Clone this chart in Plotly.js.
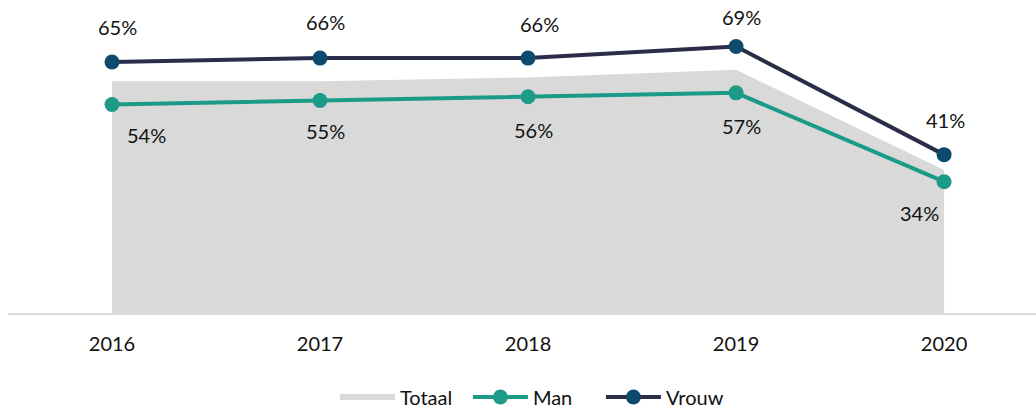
<!DOCTYPE html>
<html>
<head>
<meta charset="utf-8">
<script src="https://cdn.plot.ly/plotly-3.0.1.min.js"></script>
<style>html,body{margin:0;padding:0;background:#fff;}#chart{width:1036px;height:411px;}</style>
</head>
<body>
<div id="chart"></div>
<script>
const years = ['2016', '2017', '2018', '2019', '2020'];
const totaal = [60, 60, 61, 63, 37];
const man = [54, 55, 56, 57, 34];
const vrouw = [65, 66, 66, 69, 41];

const FONT = 'Lato, "Open Sans", sans-serif';
const manLabelShiftX = [34, 5, 5, 5, -25];
const manLabelShiftY = [-31, -30, -33, -33, -31];
const vrouwLabelShiftX = [5, 5, 11, 5, 1];
const vrouwLabelShiftY = [35, 36, 34, 29, 35];

const traces = [
  {
    x: years, y: totaal, name: 'Totaal', type: 'scatter', mode: 'none',
    fill: 'tozeroy', fillcolor: '#d9d9d9', hoverinfo: 'skip'
  },
  {
    x: years, y: man, name: 'Man', type: 'scatter', mode: 'lines+markers',
    line: {color: '#1b9a87', width: 4},
    marker: {color: '#1e9a88', size: 15}, hoverinfo: 'skip'
  },
  {
    x: years, y: vrouw, name: 'Vrouw', type: 'scatter', mode: 'lines+markers',
    line: {color: '#2b2c48', width: 4},
    marker: {color: '#0c4a6e', size: 15}, hoverinfo: 'skip'
  }
];

const annotations = [];
years.forEach((yr, i) => {
  annotations.push({x: i, y: man[i], xref: 'x', yref: 'y', text: man[i] + '%', showarrow: false,
    xshift: manLabelShiftX[i], yshift: manLabelShiftY[i], font: {family: FONT, size: 20, color: '#111'}});
  annotations.push({x: i, y: vrouw[i], xref: 'x', yref: 'y', text: vrouw[i] + '%', showarrow: false,
    xshift: vrouwLabelShiftX[i], yshift: vrouwLabelShiftY[i], font: {family: FONT, size: 20, color: '#111'}});
});

const layout = {
  width: 1036, height: 411,
  margin: {l: 8, r: 0, t: 4, b: 98, autoexpand: false},
  paper_bgcolor: '#fff', plot_bgcolor: '#fff',
  font: {family: FONT, size: 20, color: '#111'},
  showlegend: true,
  legend: {orientation: 'h', x: 0.318, xanchor: 'left', y: -0.272, yanchor: 'middle',
    itemwidth: 55, entrywidth: 63,
    font: {family: FONT, size: 20, color: '#111'}, traceorder: 'normal'},
  xaxis: {
    type: 'category', range: [-0.5, 4.442], showgrid: false, zeroline: false,
    showline: true, linecolor: '#d9d9d9', linewidth: 2, ticks: '',
    ticklabelstandoff: 12, tickfont: {family: FONT, size: 20, color: '#111'}, fixedrange: true
  },
  yaxis: {
    range: [0, 80], showgrid: false, zeroline: false, showline: false,
    showticklabels: false, ticks: '', fixedrange: true
  },
  annotations: annotations
};

Plotly.newPlot('chart', traces, layout, {displayModeBar: false, staticPlot: true});
</script>
</body>
</html>
